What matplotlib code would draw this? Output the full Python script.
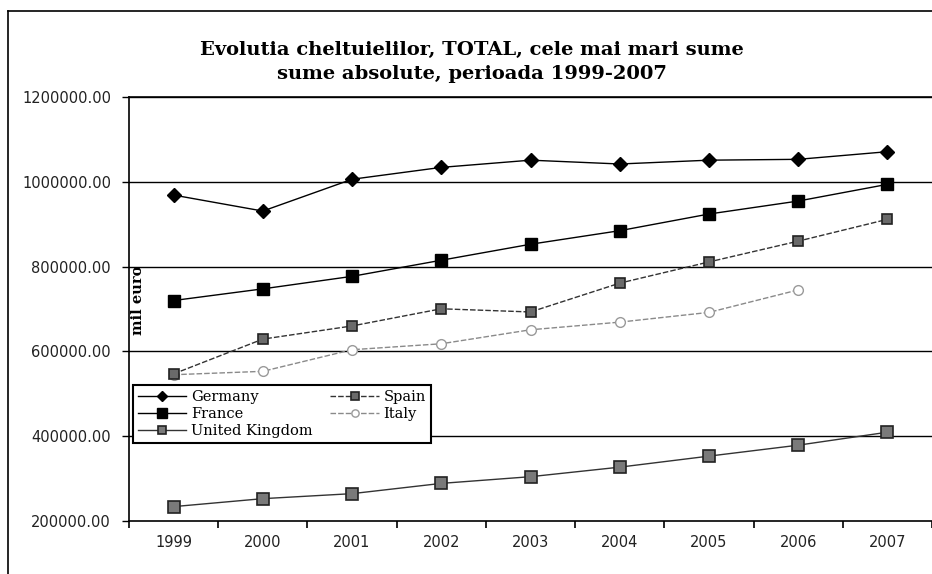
import matplotlib
matplotlib.use("Agg")
import matplotlib.pyplot as plt
from matplotlib.lines import Line2D
from matplotlib.ticker import FixedLocator, FuncFormatter
import numpy as np

years = ["1999", "2000", "2001", "2002", "2003", "2004", "2005", "2006", "2007"]
germany = [968700, 931000, 1006000, 1034000, 1051000, 1042000, 1051000, 1053000, 1071000]
france = [720000, 747500, 777000, 815000, 852700, 884700, 924000, 954600, 994000]
spain = [547000, 629000, 660000, 700500, 693000, 761000, 811000, 860000, 911500]
italy = [545000, 553000, 604000, 618000, 651000, 669000, 692000, 745000, np.nan]
uk = [233900, 252700, 264500, 288700, 304500, 327000, 353000, 378800, 409400]

title = "Evolutia cheltuielilor, TOTAL, cele mai mari sume\nsume absolute, perioada 1999-2007"
ylabel = "mil euro"
yticks = [200000, 400000, 600000, 800000, 1000000, 1200000]

fig = plt.figure(figsize=(9.32, 5.74), dpi=100)
W, H = 932, 574
left, right, top, bottom = 129, 932, 97, 521
ax = fig.add_axes([left / W, 1 - bottom / H, (right - left) / W, (bottom - top) / H])

x = np.arange(len(years))
serif = "DejaVu Serif"

ax.plot(x, germany, color="black", lw=1.0, marker="D", ms=7, mfc="black", mec="black", label="Germany", zorder=5)
ax.plot(x, france, color="black", lw=1.0, marker="s", ms=9, mfc="black", mec="black", label="France", zorder=5)
ax.plot(x, uk, color="#333333", lw=1.0, marker="s", ms=8, mfc="#7a7a7a", mec="#222222", mew=1.2, label="United Kingdom", zorder=5)
ax.plot(x, spain, color="#333333", lw=1.0, ls=(0, (4, 1.5)), marker="s", ms=7, mfc="#6a6a6a", mec="#222222", mew=1.2, label="Spain", zorder=5)
ax.plot(x, italy, color="#8a8a8a", lw=1.0, ls=(0, (4, 1.5)), marker="o", ms=7, mfc="white", mec="#9a9a9a", label="Italy", zorder=4)

ax.set_xlim(-0.5, len(years) - 0.5)
ax.set_ylim(200000, 1200000)
ax.yaxis.set_major_locator(FixedLocator(yticks))
ax.yaxis.set_major_formatter(FuncFormatter(lambda v, p: f"{v:.2f}"))
ax.set_xticks(x)
ax.set_xticklabels(years)
ax.xaxis.set_minor_locator(FixedLocator(np.arange(-0.5, len(years), 1.0)))
ax.tick_params(axis="x", which="major", length=0, pad=10, labelsize=10.5, labelcolor="#222222")
ax.tick_params(axis="x", which="minor", length=5, width=1.2, direction="out", color="black")
ax.tick_params(axis="y", length=5, width=1.0, direction="out", pad=8, labelsize=10.5, labelcolor="#222222")

for v in yticks[1:]:
    ax.axhline(v, color="black", lw=1.0, zorder=1)

for s in ["left", "bottom", "top"]:
    ax.spines[s].set_color("black")
    ax.spines[s].set_linewidth(1.2)
ax.spines["right"].set_visible(False)

ax.text(0.003, 0.52, ylabel, transform=ax.transAxes, rotation=90, ha="left", va="center",
        family=serif, fontweight="bold", fontsize=10.5, zorder=6)

h, l = ax.get_legend_handles_labels()
order = [0, 1, 2, 3, 4]
leg = ax.legend([h[i] for i in order], [l[i] for i in order], ncol=2, loc="upper left",
                bbox_to_anchor=(0.005, (bottom - 385) / (bottom - top)),
                prop={"family": serif, "size": 10.5}, frameon=True, fancybox=False,
                edgecolor="black", framealpha=1, borderaxespad=0, handlelength=3.3,
                columnspacing=1.2, labelspacing=0.2, borderpad=0.35, handletextpad=0.35,
                markerscale=0.75)
leg.get_frame().set_linewidth(1.5)
leg.set_zorder(7)

fig.text(472 / W, 1 - 62 / H, title, ha="center", va="center", family=serif, fontweight="bold",
         fontsize=14, linespacing=1.45)

fig.add_artist(Line2D([8 / W, 8 / W], [0, 1 - 11 / H], color="black", lw=1.2))
fig.add_artist(Line2D([8 / W, 1], [1 - 11 / H, 1 - 11 / H], color="black", lw=1.2))

fig.savefig("out.png", dpi=100)
